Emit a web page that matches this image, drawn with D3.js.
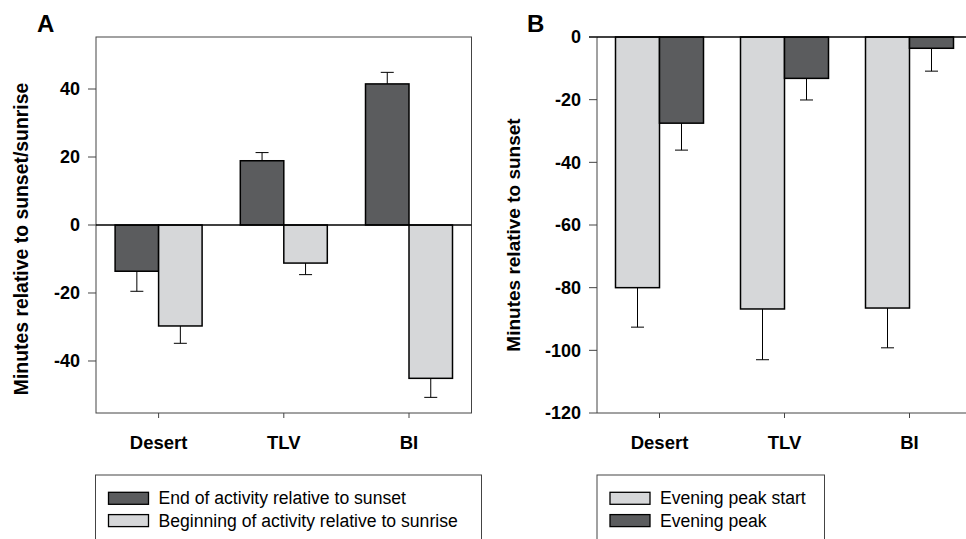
<!DOCTYPE html>
<html>
<head>
<meta charset="utf-8">
<script src="https://cdn.jsdelivr.net/npm/d3@7/dist/d3.min.js"></script>
<style>
  html, body { margin: 0; padding: 0; background: #fff; }
  svg { display: block; }
  text { font-family: "Liberation Sans", Arial, Helvetica, sans-serif; fill: #000; }
</style>
</head>
<body>
<svg id="chart" width="966" height="539"></svg>
<script>
// ---------- DATA ----------
const categories = ["Desert", "TLV", "BI"];

// Panel A
const seriesA = ["End of activity relative to sunset", "Beginning of activity relative to sunrise"];
const endSunset      = [-13.6, 18.9, 41.5];
const endSunsetErr   = [5.9, 2.4, 3.4];
const beginSunrise   = [-29.7, -11.2, -45.1];
const beginSunriseErr= [5.1, 3.4, 5.6];
const ticksA = [-40, -20, 0, 20, 40];

// Panel B
const seriesB = ["Evening peak start", "Evening peak"];
const peakStart    = [-80.0, -86.8, -86.5];
const peakStartErr = [12.6, 16.2, 12.7];
const peak         = [-27.5, -13.2, -3.6];
const peakErr      = [8.6, 6.9, 7.3];
const ticksB = [-120, -100, -80, -60, -40, -20, 0];

const DARK = "#5b5c5e", LIGHT = "#d6d7d9";

const svg = d3.select("#chart");

function drawBars(g, x, y, vals, errs, color, offset, barW) {
  const data = categories.map((c, i) => ({c, v: vals[i], e: errs[i]}));
  data.forEach(d => {
    const cx = x(d.c) + x.bandwidth() / 2 + offset + barW / 2;
    const dir = d.v >= 0 ? 1 : -1;
    g.append("line").attr("x1", cx).attr("x2", cx)
      .attr("y1", y(d.v)).attr("y2", y(d.v + dir * d.e))
      .attr("stroke", "#000").attr("stroke-width", 1);
    g.append("line").attr("x1", cx - 6.5).attr("x2", cx + 6.5)
      .attr("y1", y(d.v + dir * d.e)).attr("y2", y(d.v + dir * d.e))
      .attr("stroke", "#000").attr("stroke-width", 1);
  });
  g.selectAll(null).data(data).enter().append("rect")
    .attr("x", d => x(d.c) + x.bandwidth() / 2 + offset)
    .attr("width", barW)
    .attr("y", d => Math.min(y(d.v), y(0)))
    .attr("height", d => Math.abs(y(d.v) - y(0)))
    .attr("fill", color).attr("stroke", "#000").attr("stroke-width", 1.5);
}

function yAxisTicks(g, y, ticks, x0) {
  ticks.forEach(t => {
    g.append("line").attr("x1", x0 - 8).attr("x2", x0).attr("y1", y(t)).attr("y2", y(t))
      .attr("stroke", "#444").attr("stroke-width", 1);
    g.append("text").attr("x", x0 - 16).attr("y", y(t)).attr("dy", "0.36em")
      .attr("text-anchor", "end").attr("font-size", 18).attr("font-weight", "bold").text(t);
  });
}

function xAxisTicks(g, x, yb) {
  categories.forEach(c => {
    const cx = x(c) + x.bandwidth() / 2;
    g.append("line").attr("x1", cx).attr("x2", cx).attr("y1", yb).attr("y2", yb + 5)
      .attr("stroke", "#444").attr("stroke-width", 1);
    g.append("text").attr("x", cx).attr("y", 449).attr("text-anchor", "middle")
      .attr("font-size", 18.5).attr("font-weight", "bold").text(c);
  });
}

function legend(g, x0, x1, labels, colors) {
  g.append("rect").attr("x", x0).attr("y", 475).attr("width", x1 - x0).attr("height", 80)
    .attr("fill", "none").attr("stroke", "#444").attr("stroke-width", 1);
  labels.forEach((l, i) => {
    const yy = 492.3 + i * 22.3;
    g.append("rect").attr("x", x0 + 13).attr("y", yy).attr("width", 40).attr("height", 12)
      .attr("fill", colors[i]).attr("stroke", "#000").attr("stroke-width", 1.3);
    g.append("text").attr("x", x0 + 63).attr("y", yy + 12).attr("font-size", 17.6).text(l);
  });
}

// ---------- PANEL A ----------
{
  const L = 96, R = 471.5, T = 37, B = 413;
  const x = d3.scaleBand().domain(categories).range([L, L + 375.6]);
  const y = d3.scaleLinear().domain([-55.3, 55.3]).range([B, T]);
  const g = svg.append("g");
  g.append("rect").attr("x", L).attr("y", T).attr("width", R - L).attr("height", B - T)
    .attr("fill", "none").attr("stroke", "#444").attr("stroke-width", 1);
  const bw = 43.5;
  drawBars(g, x, y, endSunset, endSunsetErr, DARK, -bw, bw);
  drawBars(g, x, y, beginSunrise, beginSunriseErr, LIGHT, 0, bw);
  g.append("line").attr("x1", L).attr("x2", R).attr("y1", y(0)).attr("y2", y(0))
    .attr("stroke", "#000").attr("stroke-width", 1.3);
  yAxisTicks(g, y, ticksA, L);
  xAxisTicks(g, x, B);
  g.append("text").attr("transform", `translate(28,239) rotate(-90)`).attr("text-anchor", "middle")
    .attr("font-size", 19.4).attr("font-weight", "bold").text("Minutes relative to sunset/sunrise");
  g.append("text").attr("x", 37).attr("y", 32).attr("font-size", 24).attr("font-weight", "bold").text("A");
  legend(g, 95.5, 481.5, seriesA, [DARK, LIGHT]);
}

// ---------- PANEL B ----------
{
  const L = 597, T = 37, B = 413;
  const x = d3.scaleBand().domain(categories).range([L, L + 375]);
  const y = d3.scaleLinear().domain([-120, 0]).range([B, T]);
  const g = svg.append("g");
  const bw = 44;
  drawBars(g, x, y, peakStart, peakStartErr, LIGHT, -bw, bw);
  drawBars(g, x, y, peak, peakErr, DARK, 0, bw);
  g.append("line").attr("x1", L).attr("x2", L).attr("y1", T).attr("y2", B)
    .attr("stroke", "#444").attr("stroke-width", 1);
  g.append("line").attr("x1", L).attr("x2", 966).attr("y1", B).attr("y2", B)
    .attr("stroke", "#444").attr("stroke-width", 1);
  g.append("line").attr("x1", L - 8).attr("x2", 966).attr("y1", y(0)).attr("y2", y(0))
    .attr("stroke", "#000").attr("stroke-width", 1.3);
  yAxisTicks(g, y, ticksB, L);
  xAxisTicks(g, x, B);
  g.append("text").attr("transform", `translate(520,235) rotate(-90)`).attr("text-anchor", "middle")
    .attr("font-size", 19).attr("font-weight", "bold").text("Minutes relative to sunset");
  g.append("text").attr("x", 527).attr("y", 32).attr("font-size", 24).attr("font-weight", "bold").text("B");
  legend(g, 597, 824.5, seriesB, [LIGHT, DARK]);
}
</script>
</body>
</html>
